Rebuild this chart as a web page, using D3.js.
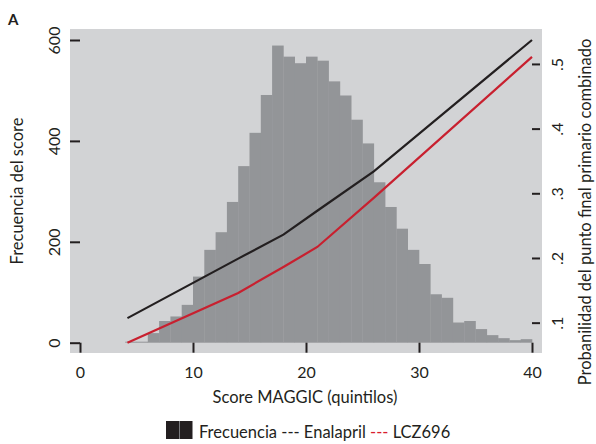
<!DOCTYPE html>
<html>
<head>
<meta charset="utf-8">
<script src="https://cdn.jsdelivr.net/npm/d3@7"></script>
<style>
  body { margin: 0; background: #fff; }
  svg text { font-family: Lato, "Open Sans", sans-serif; fill: #231f20; }
</style>
</head>
<body>
<svg id="chart" width="596" height="444"></svg>
<script>
// histogram bins (left edge of each 1-point bin) and counts
const scoreBins = [4, 5, 6, 7, 8, 9, 10, 11, 12, 13, 14, 15, 16, 17, 18, 19, 20, 21,
  22, 23, 24, 25, 26, 27, 28, 29, 30, 31, 32, 33, 34, 35, 36, 37, 38, 39];
const binCounts = [2, 2, 19, 43, 52, 75, 131, 184, 219, 279, 350, 416, 491, 589, 567, 554, 567, 559,
  518, 490, 442, 395, 318, 269, 226, 184, 156, 96, 89, 40, 43, 27, 15, 9, 5, 7];

// predicted probability curves
const curveScores = [4.2, 14, 18, 21, 26, 40];
const enalapril = [0.107, 0.199, 0.236, 0.273, 0.334, 0.537];
const lcz696 = [0.069, 0.146, 0.186, 0.217, 0.293, 0.511];

const scoreTicks = [0, 10, 20, 30, 40];
const freqTicks = [0, 200, 400, 600];
const probTicks = [0.1, 0.2, 0.3, 0.4, 0.5];
const probLabels = [".1", ".2", ".3", ".4", ".5"];

const svg = d3.select("#chart");

const x = d3.scaleLinear().domain([0, 40]).range([80, 532]);
const yF = d3.scaleLinear().domain([0, 600]).range([342.7, 40]);
const yP = d3.scaleLinear()
  .domain(d3.extent(enalapril.concat(lcz696)))
  .range([342.7, 40]);

// plot background
svg.append("rect")
  .attr("x", 70).attr("y", 29)
  .attr("width", 472).attr("height", 324)
  .attr("fill", "#d2d3d5");

// histogram
svg.append("g").selectAll("rect")
  .data(scoreBins)
  .enter()
  .append("rect")
  .attr("x", d => x(d))
  .attr("y", (d, i) => yF(binCounts[i]))
  .attr("width", d => x(d + 1) - x(d) + 0.3)
  .attr("height", (d, i) => yF(0) - yF(binCounts[i]))
  .attr("fill", "#939598");

// lines
const line = d3.line()
  .x((d, i) => x(curveScores[i]))
  .y(d => yP(d));

svg.append("path")
  .attr("d", line(enalapril))
  .attr("fill", "none")
  .attr("stroke", "#231f20")
  .attr("stroke-width", 2.2);

svg.append("path")
  .attr("d", line(lcz696))
  .attr("fill", "none")
  .attr("stroke", "#c8202f")
  .attr("stroke-width", 2.2);

// axes
function styleAxis(g) {
  g.select(".domain").remove();
  g.selectAll(".tick line").attr("stroke", "#231f20").attr("stroke-width", 2);
  g.selectAll(".tick text").attr("font-size", 16).attr("fill", "#231f20");
}

svg.append("g")
  .attr("transform", "translate(0,342.7)")
  .call(d3.axisBottom(x).tickValues(scoreTicks).tickSize(10))
  .call(styleAxis)
  .call(g => g.selectAll(".tick text").attr("y", 35.3).attr("dy", 0));

svg.append("g")
  .attr("transform", "translate(80,0)")
  .call(d3.axisLeft(yF).tickValues(freqTicks).tickSize(10))
  .call(styleAxis)
  .call(g => g.selectAll(".tick text")
    .attr("transform", "rotate(-90)")
    .attr("text-anchor", "middle")
    .attr("x", 0).attr("y", -20).attr("dy", 0));

svg.append("g")
  .attr("transform", "translate(532,0)")
  .call(d3.axisRight(yP).tickValues(probTicks).tickSize(8)
    .tickFormat((d, i) => probLabels[i]))
  .call(styleAxis)
  .call(g => g.selectAll(".tick text")
    .attr("transform", "rotate(-90)")
    .attr("text-anchor", "middle")
    .attr("x", 0).attr("y", 31).attr("dy", 0));

// titles
svg.append("text")
  .attr("x", 305).attr("y", 403)
  .attr("text-anchor", "middle")
  .attr("font-size", 16.5)
  .text("Score MAGGIC (quintilos)");

svg.append("text")
  .attr("transform", "translate(23,191) rotate(-90)")
  .attr("text-anchor", "middle")
  .attr("font-size", 16.5)
  .text("Frecuencia del score");

svg.append("text")
  .attr("transform", "translate(591,212) rotate(-90)")
  .attr("text-anchor", "middle")
  .attr("font-size", 16.5)
  .text("Probanilidad del punto final primario combinado");

svg.append("text")
  .attr("x", 8).attr("y", 25)
  .attr("font-size", 15)
  .attr("font-weight", "bold")
  .text("A");

// legend
const legend = svg.append("g");
legend.append("rect")
  .attr("x", 166).attr("y", 421).attr("width", 26.5).attr("height", 18)
  .attr("fill", "#231f20");
legend.append("line")
  .attr("x1", 179.5).attr("x2", 179.5).attr("y1", 421).attr("y2", 439)
  .attr("stroke", "#7a7b7e").attr("stroke-width", 1);

const legendText = legend.append("text")
  .attr("x", 199).attr("y", 438)
  .attr("font-size", 16.5);
legendText.append("tspan").text("Frecuencia --- Enalapril ");
legendText.append("tspan").style("fill", "#d81e2e").text("---");
legendText.append("tspan").text(" LCZ696");
</script>
</body>
</html>
